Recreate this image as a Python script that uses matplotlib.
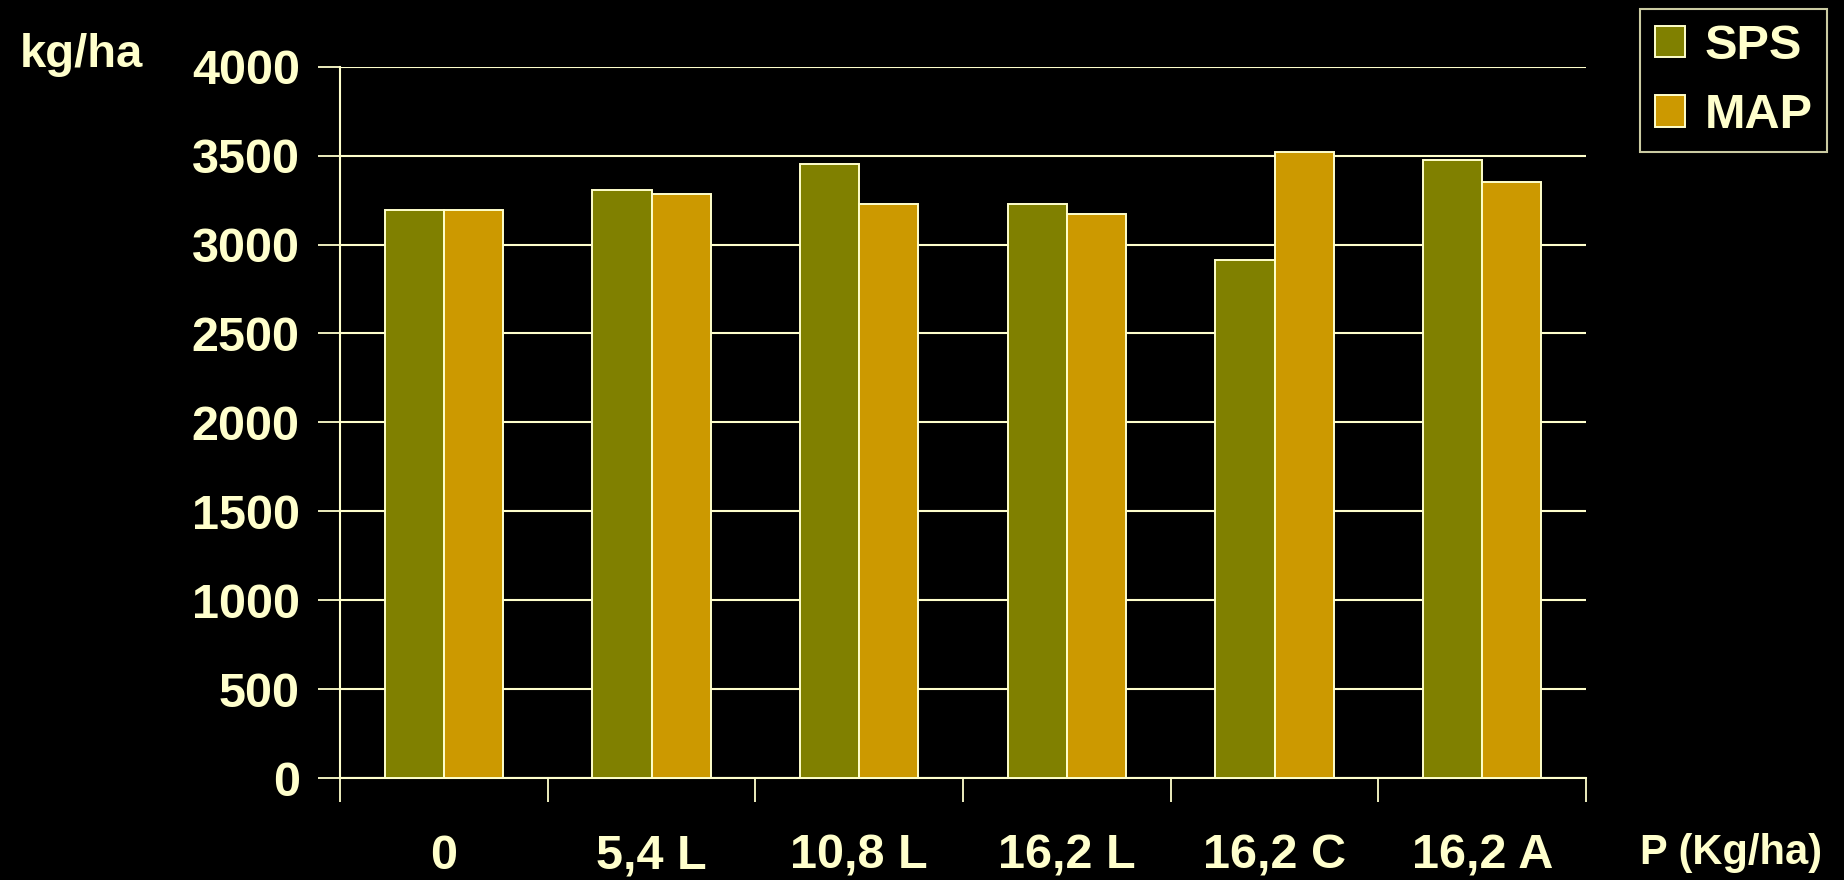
import numpy as np
import matplotlib.pyplot as plt

categories = ['0', '5,4 L', '10,8 L', '16,2 L', '16,2 C', '16,2 A']
sps = [3195, 3305, 3455, 3228, 2913, 3475]
map_vals = [3195, 3285, 3228, 3172, 3520, 3352]
yticks = [0, 500, 1000, 1500, 2000, 2500, 3000, 3500, 4000]

fg = '#FFFFCC'
plt.rcParams['font.family'] = ['Liberation Sans', 'DejaVu Sans']
plt.rcParams['font.weight'] = 'bold'

fig = plt.figure(figsize=(18.44, 8.8), dpi=100, facecolor='black')
ax = fig.add_axes([0.1844, 0.1159, 0.8601 - 0.1844, 0.9242 - 0.1159])
ax.set_facecolor('black')

x = np.arange(len(categories))
w = 0.285
ax.bar(x - w / 2, sps, w, color='#808000', edgecolor=fg, linewidth=1.4, label='SPS', zorder=3)
ax.bar(x + w / 2, map_vals, w, color='#CC9900', edgecolor=fg, linewidth=1.4, label='MAP', zorder=3)

ax.set_xlim(-0.5, len(categories) - 0.5)
ax.set_ylim(0, 4000)
ax.set_yticks(yticks)
ax.yaxis.grid(True, color=fg, linewidth=1.5, zorder=0)
ax.tick_params(axis='y', colors=fg, labelsize=35, length=16, width=1.3, pad=13)

ax.set_xticks(x)
ax.set_xticklabels(categories)
ax.set_xticks(np.arange(len(categories) + 1) - 0.5, minor=True)
ax.tick_params(axis='x', which='major', length=0, colors=fg, labelsize=35, pad=40)
ax.tick_params(axis='x', which='minor', length=17, width=1.3, color=fg)

for s in ['top', 'right']:
    ax.spines[s].set_visible(False)
for s in ['left', 'bottom']:
    ax.spines[s].set_color(fg)
    ax.spines[s].set_linewidth(1.5)

fig.text(20 / 1844, 1 - 67 / 880, 'kg/ha', color=fg, fontsize=34, fontweight='bold',
         ha='left', va='baseline')
fig.text(1640 / 1844, 1 - 853 / 880, 'P (Kg/ha)', color=fg, fontsize=30, fontweight='bold',
         ha='left', va='center')

leg = fig.legend(loc='upper right', bbox_to_anchor=(1827 / 1844, 1 - 9 / 880),
                 fontsize=35, frameon=True, fancybox=False, handlelength=0.62,
                 handleheight=0.62, handletextpad=0.4, borderpad=0.3, labelspacing=0.5,
                 borderaxespad=0)
leg.get_frame().set_facecolor('black')
leg.get_frame().set_edgecolor(fg)
leg.get_frame().set_linewidth(1.5)
for t in leg.get_texts():
    t.set_color(fg)

fig.savefig('out.png', dpi=100, facecolor='black')
